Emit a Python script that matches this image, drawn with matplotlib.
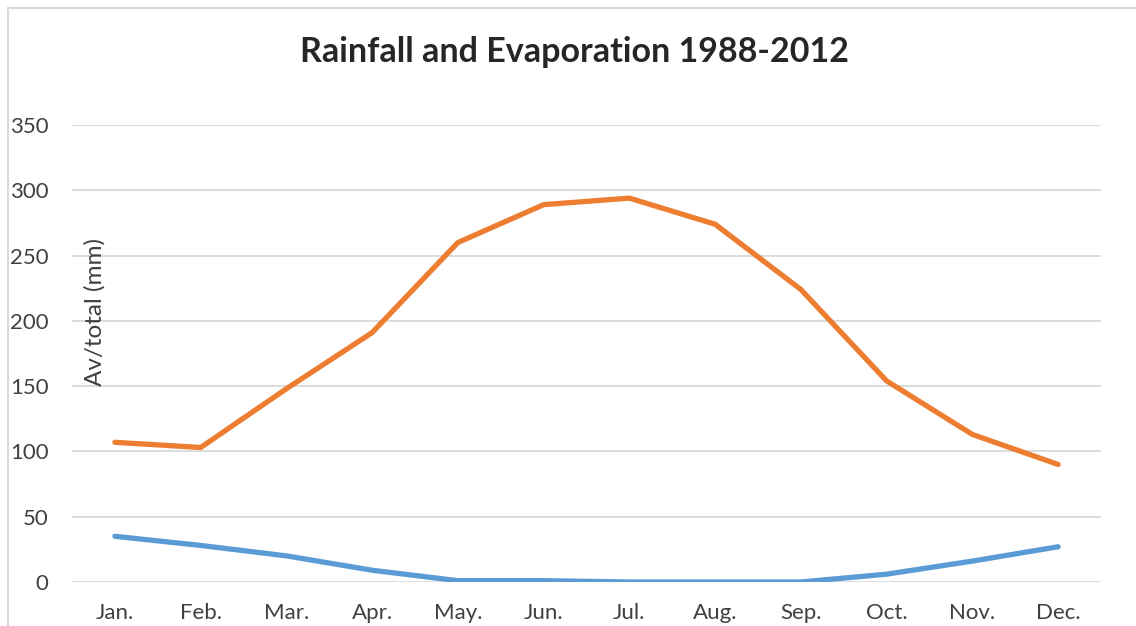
import matplotlib
matplotlib.use("Agg")
import matplotlib.pyplot as plt
from matplotlib.patches import Rectangle

# Chart data
months = ['Jan.', 'Feb.', 'Mar.', 'Apr.', 'May.', 'Jun.',
          'Jul.', 'Aug.', 'Sep.', 'Oct.', 'Nov.', 'Dec.']
evaporation = [107, 103, 148, 191, 260, 289, 294, 274, 224, 154, 113, 90]
rainfall = [35, 28, 20, 9, 1, 1, 0, 0, 0, 6, 16, 27]
y_ticks = [0, 50, 100, 150, 200, 250, 300, 350]

plt.rcParams['font.family'] = ['Lato', 'DejaVu Sans']

fig = plt.figure(figsize=(11.36, 6.26), dpi=100)
ax = fig.add_axes([0.0634, 0.0703, 0.9058, 0.73])

# Chart frame (cropped on right and bottom)
fig.patches.append(Rectangle((8 / 1136, -0.1), 1.2, 1 - 8 / 626 + 0.1,
                             transform=fig.transFigure, fill=False,
                             edgecolor='#d9d9d9', linewidth=1.5))

x = range(len(months))
ax.plot(x, rainfall, color='#5B9BD5', linewidth=3.8, solid_capstyle='round')
ax.plot(x, evaporation, color='#ED7D31', linewidth=3.8, solid_capstyle='round')

ax.set_xlim(-0.5, 11.5)
ax.set_ylim(0, 350)
ax.set_yticks(y_ticks)
ax.set_xticks(list(x))
ax.set_xticklabels(months)
ax.grid(axis='y', color='#d9d9d9', linewidth=1.3)
ax.set_axisbelow(True)
for s in ax.spines.values():
    s.set_visible(False)
ax.tick_params(length=0, labelsize=16, labelcolor='#404040')
ax.tick_params(axis='y', pad=17)
ax.tick_params(axis='x', pad=15)

ax.text(0.0225, 0.59, 'Av/total (mm)', transform=ax.transAxes, rotation=90,
        ha='center', va='center', fontsize=17.5, color='#404040')

fig.text(575 / 1136, 1 - 52 / 626, 'Rainfall and Evaporation 1988-2012',
         ha='center', va='center', fontsize=24.5, fontweight='bold', color='#262626')

fig.savefig('out.png', dpi=100)
